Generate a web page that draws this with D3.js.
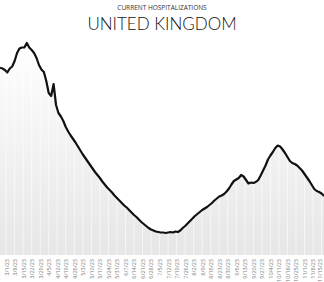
<!DOCTYPE html>
<html>
<head>
<meta charset="utf-8">
<script src="https://cdn.jsdelivr.net/npm/d3@7"></script>
<style>
  html, body { margin: 0; padding: 0; background: #fff; }
  svg { display: block; }
</style>
</head>
<body>
<div id="chart"></div>
<script>
// first data day, one reading every 2 days
const dataStart = "2023-02-24";
const stepDays = 2;

// patients in hospital
const hospitalized = [
  9365, 9325, 9250, 9125, 9325, 9425, 9700, 10100, 10325, 10375,
  10375, 10600, 10375, 10250, 10100, 9850, 9500, 9275, 9150, 8700,
  8100, 7950, 8550, 7500, 7100, 6925, 6700, 6400, 6175, 5975,
  5800, 5625, 5425, 5225, 5025, 4850, 4675, 4500, 4325, 4150,
  4000, 3850, 3675, 3525, 3375, 3250, 3125, 2975, 2850, 2725,
  2600, 2475, 2375, 2250, 2125, 2000, 1900, 1775, 1650, 1550,
  1450, 1350, 1275, 1225, 1175, 1150, 1125, 1125, 1100, 1125,
  1150, 1125, 1175, 1150, 1225, 1350, 1450, 1575, 1700, 1825,
  1950, 2050, 2150, 2250, 2325, 2400, 2500, 2600, 2725, 2825,
  2925, 2975, 3050, 3175, 3325, 3525, 3700, 3775, 3850, 4000,
  3925, 3750, 3575, 3625, 3600, 3650, 3750, 3975, 4225, 4475,
  4775, 4975, 5150, 5350, 5475, 5425, 5275, 5100, 4900, 4700,
  4600, 4550, 4475, 4350, 4225, 4050, 3875, 3700, 3500, 3300,
  3200, 3150, 3075, 2950
];

// weekly tick labels
const tickLabels = [
  "3/1/23", "3/8/23", "3/15/23", "3/22/23", "3/29/23", "4/5/23", "4/12/23",
  "4/19/23", "4/26/23", "5/3/23", "5/10/23", "5/17/23", "5/24/23", "5/31/23",
  "6/7/23", "6/14/23", "6/21/23", "6/28/23", "7/5/23", "7/12/23", "7/19/23",
  "7/26/23", "8/2/23", "8/9/23", "8/16/23", "8/23/23", "8/30/23", "9/6/23",
  "9/13/23", "9/20/23", "9/27/23", "10/4/23", "10/11/23", "10/18/23",
  "10/25/23", "11/1/23", "11/8/23", "11/15/23"
];

const width = 324, height = 282;
const plotTop = 35, plotBottom = 255;

const t0 = d3.timeParse("%Y-%m-%d")(dataStart);
const series = hospitalized.map((v, i) => ({ date: d3.timeDay.offset(t0, i * stepDays), value: v }));
const parseTick = d3.timeParse("%m/%d/%y");
const ticks = tickLabels.map(parseTick);

const x = d3.scaleTime()
    .domain(d3.extent(series, d => d.date))
    .range([0, width]);

const y = d3.scaleLinear()
    .domain([0, 11000])
    .range([plotBottom, plotTop]);

const svg = d3.select("#chart")
    .append("svg")
    .attr("width", width)
    .attr("height", height);

const defs = svg.append("defs");
const grad = defs.append("linearGradient")
    .attr("id", "fillGrad")
    .attr("gradientUnits", "userSpaceOnUse")
    .attr("x1", 0).attr("x2", 0)
    .attr("y1", plotTop).attr("y2", plotBottom);
grad.append("stop").attr("offset", "0%").attr("stop-color", "#ffffff");
grad.append("stop").attr("offset", "100%").attr("stop-color", "#e6e6e6");

// area under the line
svg.append("path")
    .datum(series)
    .attr("fill", "url(#fillGrad)")
    .attr("d", d3.area()
        .x(d => x(d.date))
        .y0(plotBottom)
        .y1(d => y(d.value)));

// faint vertical grid
svg.append("g")
    .selectAll("line")
    .data(ticks)
    .enter()
    .append("line")
    .attr("x1", d => x(d)).attr("x2", d => x(d))
    .attr("y1", plotTop).attr("y2", plotBottom)
    .attr("stroke", "#ffffff")
    .attr("stroke-opacity", 0.6)
    .attr("stroke-width", 1);

// line
svg.append("path")
    .datum(series)
    .attr("fill", "none")
    .attr("stroke", "#111")
    .attr("stroke-width", 2.2)
    .attr("stroke-linejoin", "round")
    .attr("d", d3.line()
        .x(d => x(d.date))
        .y(d => y(d.value)));

// x axis, rotated labels
const fmt = d3.timeFormat("%-m/%-d/%y");
const axis = svg.append("g")
    .attr("transform", `translate(0,${plotBottom})`)
    .call(d3.axisBottom(x).tickValues(ticks).tickFormat(fmt).tickSize(0));
axis.select(".domain").remove();
axis.selectAll("text")
    .attr("font-family", "'Open Sans', sans-serif")
    .attr("font-size", "5.5px")
    .attr("fill", "#808080")
    .attr("text-anchor", "end")
    .attr("dy", "0.35em")
    .attr("transform", (d, i) => `translate(${i === ticks.length - 1 ? -2 : 0},4) rotate(-90)`)
    .attr("x", 0)
    .attr("y", 0);

// titles
svg.append("text")
    .attr("x", width / 2)
    .attr("y", 10)
    .attr("text-anchor", "middle")
    .attr("font-family", "'Open Sans', sans-serif")
    .attr("font-size", "6.5px")
    .attr("fill", "#333")
    .text("CURRENT HOSPITALIZATIONS");

svg.append("text")
    .attr("x", width / 2)
    .attr("y", 30)
    .attr("text-anchor", "middle")
    .attr("font-family", "Lato, sans-serif")
    .attr("font-weight", 300)
    .attr("font-size", "17px")
    .attr("fill", "#111")
    .text("UNITED KINGDOM");
</script>
</body>
</html>
